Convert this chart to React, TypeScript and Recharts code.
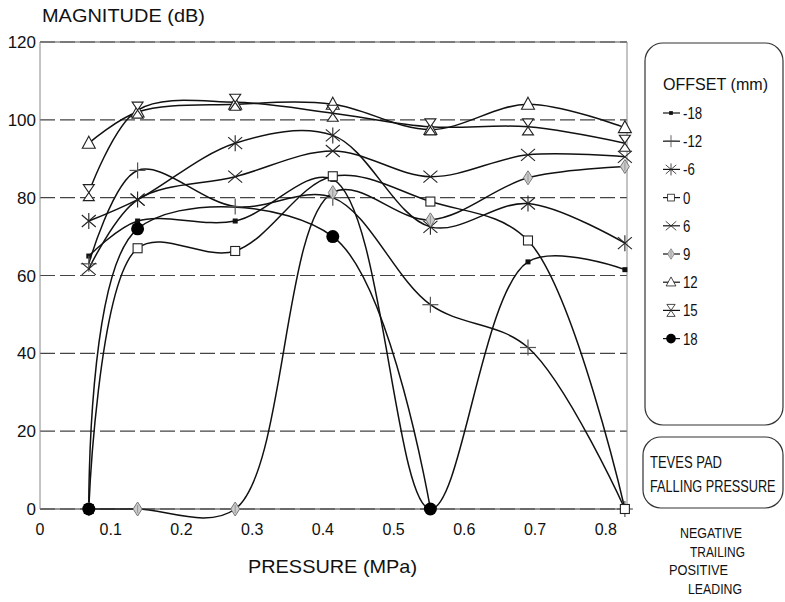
import React from 'react';
import {
  LineChart,
  Line,
  XAxis,
  YAxis,
  CartesianGrid,
  ReferenceLine,
} from 'recharts';

// pressure points (MPa) = 10..120 psi
const pressure = [0.069, 0.138, 0.276, 0.414, 0.552, 0.69, 0.827];

const offsetM18 = [65, 74, 74, 84.7, 0, 63.5, 61.5];
const offsetM12 = [63, 87, 77.7, 80, 52.5, 41.5, 0];
const offsetM6 = [74, 79.5, 94, 96, 72.5, 78.5, 68.3];
const offset0 = [0, 67, 66.3, 85.5, 79, 69, 0];
const offset6 = [61.7, 79.5, 85.4, 92, 85.4, 91, 90.5];
const offset9 = [0, 0, 0, 81.3, 74.3, 85.1, 88];
const offset12 = [94, 102, 104, 104, 97.5, 104, 98];
const offset15 = [81.3, 102.5, 104.5, 101.7, 98.2, 98.2, 94];
const offset18 = [0, 72, null, 70, 0, null, null];

const offsetLabels = ['-18', '-12', '-6', '0', '6', '9', '12', '15', '18'];
const xTicks = [0, 0.1, 0.2, 0.3, 0.4, 0.5, 0.6, 0.7, 0.8];
const yTicks = [0, 20, 40, 60, 80, 100, 120];

const seriesValues = [
  offsetM18, offsetM12, offsetM6, offset0, offset6,
  offset9, offset12, offset15, offset18,
];
const shapes = ['dot', 'plus', 'star', 'square', 'cross', 'diamond', 'triangle', 'hourglass', 'disc'];

const data = pressure.map((p, i) => {
  const row: Record<string, number | null> = { p };
  seriesValues.forEach((vals, s) => {
    row['s' + s] = vals[i];
  });
  return row;
});

const FONT = "'Liberation Sans', Arial, Helvetica, sans-serif";

// centripetal catmull-rom, gives the soft overshoot of the old plot package
function smoothCurve(context: any) {
  let pts: number[][] = [];
  return {
    areaStart() {},
    areaEnd() {},
    lineStart() {
      pts = [];
    },
    lineEnd() {
      const n = pts.length;
      if (!n) return;
      context.moveTo(pts[0][0], pts[0][1]);
      if (n === 2) {
        context.lineTo(pts[1][0], pts[1][1]);
        return;
      }
      const dist = (a: number[], b: number[]) => Math.hypot(a[0] - b[0], a[1] - b[1]);
      for (let i = 0; i < n - 1; i++) {
        const p0 = i > 0 ? pts[i - 1] : null;
        const p1 = pts[i];
        const p2 = pts[i + 1];
        const p3 = i + 2 < n ? pts[i + 2] : null;
        const l12 = dist(p1, p2);
        const l12a = Math.sqrt(l12);
        let c1 = p1;
        let c2 = p2;
        if (p0) {
          const l01 = dist(p0, p1);
          if (l01 > 1e-6) {
            const la = Math.sqrt(l01);
            const a = 2 * l01 + 3 * la * l12a + l12;
            const nn = 3 * la * (la + l12a);
            c1 = [
              (p1[0] * a - p0[0] * l12 + p2[0] * l01) / nn,
              (p1[1] * a - p0[1] * l12 + p2[1] * l01) / nn,
            ];
          }
        }
        if (p3) {
          const l23 = dist(p2, p3);
          if (l23 > 1e-6) {
            const lb = Math.sqrt(l23);
            const b = 2 * l23 + 3 * lb * l12a + l12;
            const m = 3 * lb * (lb + l12a);
            c2 = [
              (p2[0] * b + p1[0] * l23 - p3[0] * l12) / m,
              (p2[1] * b + p1[1] * l23 - p3[1] * l12) / m,
            ];
          }
        }
        context.bezierCurveTo(c1[0], c1[1], c2[0], c2[1], p2[0], p2[1]);
      }
    },
    point(x: number, y: number) {
      pts.push([+x, +y]);
    },
  };
}

function Marker({ shape, cx, cy }: { shape: string; cx: number; cy: number }) {
  const k = '#222';
  switch (shape) {
    case 'dot':
      return <rect x={cx - 2.5} y={cy - 2.5} width={5} height={5} fill="#111" />;
    case 'plus':
      return (
        <g stroke="#555" strokeWidth={1.2}>
          <line x1={cx - 8} y1={cy} x2={cx + 8} y2={cy} />
          <line x1={cx} y1={cy - 8} x2={cx} y2={cy + 8} />
        </g>
      );
    case 'star':
      return (
        <g stroke={k} strokeWidth={1.1}>
          <line x1={cx - 7} y1={cy - 6} x2={cx + 7} y2={cy + 6} />
          <line x1={cx - 7} y1={cy + 6} x2={cx + 7} y2={cy - 6} />
          <line x1={cx} y1={cy - 8} x2={cx} y2={cy + 8} />
        </g>
      );
    case 'square':
      return <rect x={cx - 4.5} y={cy - 4.5} width={9} height={9} fill="#fff" stroke={k} strokeWidth={1.1} />;
    case 'cross':
      return (
        <g stroke={k} strokeWidth={1.1}>
          <line x1={cx - 7} y1={cy - 6} x2={cx + 7} y2={cy + 6} />
          <line x1={cx - 7} y1={cy + 6} x2={cx + 7} y2={cy - 6} />
        </g>
      );
    case 'diamond':
      return (
        <g>
          <path d={`M${cx},${cy - 7} L${cx + 4.5},${cy} L${cx},${cy + 7} L${cx - 4.5},${cy} Z`} fill="#ccc" stroke="#777" strokeWidth={1} />
          <line x1={cx} y1={cy - 4} x2={cx} y2={cy + 4} stroke="#888" strokeWidth={0.8} />
        </g>
      );
    case 'triangle':
      return <path d={`M${cx},${cy - 7} L${cx + 6.5},${cy + 5} L${cx - 6.5},${cy + 5} Z`} fill="#fff" stroke={k} strokeWidth={1.1} />;
    case 'hourglass':
      return (
        <path
          d={`M${cx - 5.5},${cy - 8} L${cx + 5.5},${cy - 8} L${cx - 5.5},${cy + 8} L${cx + 5.5},${cy + 8} Z`}
          fill="#fff"
          stroke={k}
          strokeWidth={1.1}
        />
      );
    case 'disc':
      return <circle cx={cx} cy={cy} r={6.5} fill="#000" />;
    default:
      return null;
  }
}

const makeDot = (shape: string) => (props: any) => {
  const { cx, cy, index, value } = props;
  if (cx == null || cy == null || value == null) return <g key={'d' + index} />;
  return (
    <g key={'d' + index}>
      <Marker shape={shape} cx={cx} cy={cy} />
    </g>
  );
};

const YTick = (props: any) => {
  const { x, y, payload } = props;
  return (
    <text x={x} y={y + 6} textAnchor="end" fontSize={17} fontFamily={FONT} fill="#111">
      {payload.value}
    </text>
  );
};

const XTick = (props: any) => {
  const { x, y, payload } = props;
  return (
    <text x={x} y={y + 24} textAnchor="middle" fontSize={16} fontFamily={FONT} fill="#111">
      {payload.value}
    </text>
  );
};

// condensed text: squeeze to the width measured on the reference
const Squeezed = ({ x, y, w, size, children }: any) => (
  <text
    x={x}
    y={y}
    fontSize={size}
    fontFamily={FONT}
    fill="#111"
    textLength={w}
    lengthAdjust="spacingAndGlyphs"
  >
    {children}
  </text>
);

export default function App() {
  return (
    <div style={{ position: 'absolute', left: 0, top: 0, width: 785, height: 602, background: '#fff' }}>
      <LineChart
        width={785}
        height={602}
        data={data}
        margin={{ top: 42, right: 158, bottom: 63, left: 0 }}
      >
        <CartesianGrid vertical={false} stroke="#444" strokeDasharray="15 5" strokeWidth={1.1} />
        <XAxis
          dataKey="p"
          type="number"
          domain={[0, 0.83]}
          ticks={xTicks}
          tick={<XTick />}
          tickLine={false}
          tickSize={0}
          height={30}
          stroke="#333"
          interval={0}
        />
        <YAxis
          type="number"
          domain={[0, 120]}
          ticks={yTicks}
          tick={<YTick />}
          tickLine={false}
          tickSize={0}
          tickMargin={4}
          width={40}
          stroke="#888"
          interval={0}
        />
        <ReferenceLine y={120} stroke="#555" strokeWidth={1.2} />
        <ReferenceLine x={0.83} stroke="#888" strokeWidth={1} />
        {offsetLabels.map((lab, s) => (
          <Line
            key={lab}
            dataKey={'s' + s}
            name={lab}
            type={smoothCurve as any}
            stroke="#111"
            strokeWidth={1.5}
            dot={makeDot(shapes[s])}
            activeDot={false}
            connectNulls
            isAnimationActive={false}
          />
        ))}
      </LineChart>

      <svg width={785} height={602} style={{ position: 'absolute', left: 0, top: 0, pointerEvents: 'none' }}>
        <Squeezed x={42} y={22} w={163} size={18}>MAGNITUDE (dB)</Squeezed>
        <Squeezed x={248} y={573} w={169} size={19}>PRESSURE (MPa)</Squeezed>

        <rect x={645} y={43} width={138} height={382} rx={18} ry={18} fill="none" stroke="#333" strokeWidth={1.2} />
        <Squeezed x={663} y={90} w={105} size={17}>OFFSET (mm)</Squeezed>
        {offsetLabels.map((lab, s) => {
          const cy = 113 + s * 28.2;
          return (
            <g key={lab}>
              <line x1={663} y1={cy} x2={680} y2={cy} stroke="#111" strokeWidth={1.2} />
              <g transform={`translate(${671},${cy}) scale(0.75) translate(${-671},${-cy})`}>
                <Marker shape={shapes[s]} cx={671} cy={cy} />
              </g>
              <text
                transform={`translate(683,${cy + 6}) scale(0.78,1)`}
                fontSize={17}
                fontFamily={FONT}
                fill="#111"
              >
                {lab}
              </text>
            </g>
          );
        })}

        <rect x={643} y={437} width={140} height={71} rx={18} ry={18} fill="none" stroke="#333" strokeWidth={1.2} />
        <Squeezed x={650} y={468} w={72} size={16}>TEVES PAD</Squeezed>
        <text
          transform="translate(650,492) scale(0.8,1)"
          fontSize={16}
          fontFamily={FONT}
          fill="#111"
          textLength={157}
          lengthAdjust="spacingAndGlyphs"
        >
          FALLING PRESSURE
        </text>

        <Squeezed x={680} y={538} w={62} size={15}>NEGATIVE</Squeezed>
        <Squeezed x={690} y={557} w={55} size={15}>TRAILING</Squeezed>
        <Squeezed x={669} y={575} w={59} size={15}>POSITIVE</Squeezed>
        <Squeezed x={688} y={594} w={54} size={15}>LEADING</Squeezed>
      </svg>
    </div>
  );
}
